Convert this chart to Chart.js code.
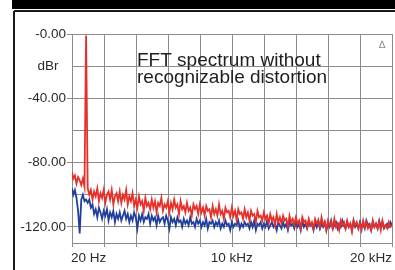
<!DOCTYPE html>
<html>
<head>
<meta charset="utf-8">
<script src="https://cdn.jsdelivr.net/npm/chart.js@4.4.1/dist/chart.umd.min.js"></script>
<style>
html,body{margin:0;padding:0;background:#fff;}
canvas{display:block;}
</style>
</head>
<body>
<canvas id="c" width="395" height="270"></canvas>
<script>
// Frequency bins (kHz)
const FREQ_KHZ = [
0.02,0.1,0.2,0.3,0.4,0.5,0.6,0.7,0.8,0.9,
1.0,1.1,1.2,1.3,1.4,1.5,1.6,1.7,1.8,1.9,
2.0,2.1,2.2,2.3,2.4,2.5,2.6,2.7,2.8,2.9,
3.0,3.1,3.2,3.3,3.4,3.5,3.6,3.7,3.8,3.9,
4.0,4.1,4.2,4.3,4.4,4.5,4.6,4.7,4.8,4.9,
5.0,5.1,5.2,5.3,5.4,5.5,5.6,5.7,5.8,5.9,
6.0,6.1,6.2,6.3,6.4,6.5,6.6,6.7,6.8,6.9,
7.0,7.1,7.2,7.3,7.4,7.5,7.6,7.7,7.8,7.9,
8.0,8.1,8.2,8.3,8.4,8.5,8.6,8.7,8.8,8.9,
9.0,9.1,9.2,9.3,9.4,9.5,9.6,9.7,9.8,9.9,
10.0,10.1,10.2,10.3,10.4,10.5,10.6,10.7,10.8,10.9,
11.0,11.1,11.2,11.3,11.4,11.5,11.6,11.7,11.8,11.9,
12.0,12.1,12.2,12.3,12.4,12.5,12.6,12.7,12.8,12.9,
13.0,13.1,13.2,13.3,13.4,13.5,13.6,13.7,13.8,13.9,
14.0,14.1,14.2,14.3,14.4,14.5,14.6,14.7,14.8,14.9,
15.0,15.1,15.2,15.3,15.4,15.5,15.6,15.7,15.8,15.9,
16.0,16.1,16.2,16.3,16.4,16.5,16.6,16.7,16.8,16.9,
17.0,17.1,17.2,17.3,17.4,17.5,17.6,17.7,17.8,17.9,
18.0,18.1,18.2,18.3,18.4,18.5,18.6,18.7,18.8,18.9,
19.0,19.1,19.2,19.3,19.4,19.5,19.6,19.7,19.8,19.9,
20.0
];
// Red channel (dBr)
const RED_DB = [
-86,-90,-88,-93,-89,-91,-94,-90,-95,-1,
-96,-100,-97,-103,-98,-101,-96,-104,-99,-102,
-97,-105,-100,-98,-103,-97,-106,-101,-99,-104,
-98,-105,-100,-103,-97,-106,-101,-104,-99,-107,
-103,-108,-101,-106,-104,-110,-102,-107,-105,-109,
-103,-108,-104,-111,-105,-107,-102,-110,-106,-108,
-104,-111,-105,-109,-103,-108,-106,-112,-104,-109,
-107,-111,-105,-110,-108,-113,-106,-109,-107,-112,
-106,-111,-108,-113,-107,-110,-109,-114,-107,-112,
-109,-113,-106,-112,-110,-115,-108,-111,-110,-114,
-108,-113,-110,-116,-109,-112,-111,-115,-109,-114,
-111,-116,-110,-113,-112,-117,-110,-114,-113,-116,
-111,-115,-113,-118,-112,-116,-114,-119,-112,-117,
-114,-118,-113,-116,-115,-120,-113,-117,-115,-119,
-114,-118,-116,-121,-114,-117,-116,-120,-115,-119,
-117,-121,-115,-118,-116,-120,-114,-119,-117,-122,
-116,-119,-117,-121,-115,-120,-118,-122,-116,-119,
-117,-121,-116,-120,-118,-123,-116,-119,-117,-121,
-118,-122,-116,-120,-117,-121,-119,-122,-116,-120,
-118,-121,-117,-122,-116,-120,-119,-121,-117,-120,
-119
];
// Blue channel (dBr)
const BLUE_DB = [
-96,-100,-97,-102,-110,-124,-103,-100,-104,-103,
-105,-103,-108,-106,-112,-109,-114,-108,-111,-115,
-110,-113,-109,-116,-111,-114,-110,-117,-112,-115,
-111,-116,-113,-110,-115,-112,-117,-113,-116,-111,
-114,-121,-113,-116,-112,-117,-114,-115,-112,-118,
-113,-116,-114,-119,-113,-117,-115,-114,-118,-113,
-116,-121,-114,-117,-115,-119,-114,-117,-116,-120,
-115,-118,-116,-119,-114,-118,-117,-120,-115,-118,
-116,-120,-117,-119,-115,-121,-117,-118,-116,-120,
-117,-119,-116,-121,-118,-120,-116,-119,-118,-122,
-117,-120,-118,-119,-116,-121,-118,-120,-117,-119,
-118,-121,-117,-120,-116,-122,-118,-119,-117,-121,
-118,-120,-116,-121,-119,-117,-120,-118,-122,-117,
-119,-121,-117,-120,-118,-122,-117,-119,-118,-121,
-117,-120,-118,-122,-116,-120,-118,-121,-117,-119,
-118,-122,-117,-120,-116,-121,-118,-120,-117,-122,
-118,-120,-116,-121,-119,-117,-121,-118,-120,-116,
-119,-121,-117,-120,-118,-122,-116,-120,-118,-121,
-117,-120,-118,-121,-116,-119,-118,-122,-117,-120,
-118,-121,-116,-120,-117,-121,-119,-118,-120,-117,
-119
];
const Y_TICKS = [0,-20,-40,-60,-80,-100,-120];
const Y_LABELS = ['-0.00','dBr  ','-40.00','','-80.00','','-120.00'];
const X_GRID = [0.02,2.018,4.016,6.014,8.012,10.01,12.008,14.006,16.004,18.002,20];
const X_LABEL_VALUES = [0.02,10,20];
const X_LABEL_TEXT = ['20 Hz','10 kHz','20 kHz'];
const NOTE_LINES = ['FFT spectrum without','recognizable distortion'];

const GRID = '#8c8c8c';
const FONT = '"Liberation Sans", Arial, sans-serif';

const framePlugin = {
  id:'frame',
  beforeDraw(chart){
    const c = chart.ctx;
    c.save();
    c.fillStyle='#fff'; c.fillRect(0,0,395,270);
    c.fillStyle='#000'; c.fillRect(12,0,383,9);
    c.strokeStyle='#1a1a1a'; c.lineWidth=2;
    c.beginPath(); c.moveTo(14,11); c.lineTo(395,11); c.moveTo(14,11); c.lineTo(14,270); c.stroke();
    c.restore();
  },
  afterDraw(chart){
    const c = chart.ctx, xs = chart.scales.x, a = chart.chartArea;
    c.save();
    c.fillStyle='#2a2a2a';
    c.font='13.5px '+FONT;
    c.textBaseline='alphabetic';
    X_LABEL_VALUES.forEach((v,i)=>{
      const px = xs.getPixelForValue(v);
      c.textAlign = i===0 ? 'left' : (i===X_LABEL_VALUES.length-1 ? 'right' : 'center');
      c.fillText(X_LABEL_TEXT[i], i===0 ? a.left-1 : px, 262);
    });
    c.fillStyle='#1e1e1e';
    c.font='19px '+FONT;
    c.textAlign='left';
    c.fillText(NOTE_LINES[0],137,65.5);
    c.fillText(NOTE_LINES[1],137,83);
    c.fillStyle='#8a8a8a';
    c.font='10px "DejaVu Sans", sans-serif';
    c.textAlign='center';
    c.fillText('\u2206',382,48);
    c.restore();
  }
};

const red = FREQ_KHZ.map((f,i)=>({x:f,y:RED_DB[i]}));
const blue = FREQ_KHZ.map((f,i)=>({x:f,y:BLUE_DB[i]}));

new Chart(document.getElementById('c'),{
  type:'line',
  data:{datasets:[
    {label:'L',data:red,borderColor:'#e8302b',borderWidth:1.8,pointRadius:0,tension:0,fill:false},
    {label:'R',data:blue,borderColor:'#213f9c',borderWidth:1.8,pointRadius:0,tension:0,fill:false}
  ]},
  options:{
    responsive:false,animation:false,
    layout:{padding:{left:0,right:3,top:34,bottom:0}},
    plugins:{legend:{display:false},tooltip:{enabled:false},title:{display:false}},
    scales:{
      x:{type:'linear',min:0.02,max:20,
        afterBuildTicks:s=>{s.ticks=X_GRID.map(v=>({value:v}));},
        afterFit:s=>{s.height=27;},
        grid:{color:GRID,lineWidth:1,drawTicks:true,tickLength:4,tickColor:GRID},
        border:{color:GRID,width:1},
        ticks:{display:false}
      },
      y:{type:'linear',min:-130,max:0,
        afterBuildTicks:s=>{s.ticks=Y_TICKS.map(v=>({value:v}));},
        afterFit:s=>{s.width=72;},
        grid:{color:GRID,lineWidth:1,drawTicks:true,tickLength:5,
          tickColor:ctx=>{const i=Y_TICKS.indexOf(ctx.tick.value);return (i>=0&&Y_LABELS[i].trim()!==''&&i!==1)?GRID:'rgba(0,0,0,0)';}},
        border:{color:GRID,width:1},
        ticks:{autoSkip:false,padding:1,color:'#2a2a2a',font:{family:FONT,size:13.5},
          callback:v=>{const i=Y_TICKS.indexOf(v);return i>=0?Y_LABELS[i]:'';}}
      }
    }
  },
  plugins:[framePlugin]
});
</script>
</body>
</html>
